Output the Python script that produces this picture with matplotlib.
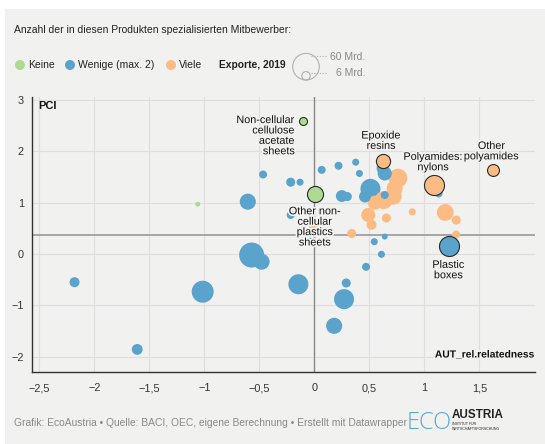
import matplotlib
matplotlib.use("Agg")
import matplotlib.pyplot as plt
from matplotlib.patches import Rectangle, Circle
import matplotlib.patheffects as pe
from matplotlib.ticker import FuncFormatter

plt.rcParams['font.family'] = ['Liberation Sans', 'DejaVu Sans']

# ---------------- data ----------------
categories = ["Keine", "Wenige (max. 2)", "Viele"]
colors = {"Keine": "#aedb93", "Wenige (max. 2)": "#5aa3cc", "Viele": "#fdbb84"}

keine_x = [-1.06, -0.105, 0.006]
keine_y = [0.97, 2.60, 1.16]
keine_exp = [2.1, 5.4, 22]
keine_lab = ["", "Non-cellular\ncellulose\nacetate\nsheets", "Other non-\ncellular\nplastics\nsheets"]

wenige_x = [-2.18, -1.61, -1.015, -0.57, -0.48, -0.605, -0.466, -0.215, -0.13, 0.067,
            0.22, 0.376, 0.41, 0.25, 0.30, 0.51, 0.46, 0.64, 0.64, 0.62,
            1.13, 1.22, 0.545, 0.64, 0.61, 0.47, -0.145, 0.29, 0.27, 0.18,
            -0.215, -0.04, 0.11]
wenige_y = [-0.55, -1.86, -0.735, -0.02, -0.15, 1.02, 1.55, 1.40, 1.40, 1.64,
            1.72, 1.79, 1.57, 1.13, 1.12, 1.27, 1.12, 1.15, 1.57, 1.67,
            1.18, 0.156, 0.24, 0.34, -0.006, -0.25, -0.59, -0.565, -0.88, -1.40,
            0.76, 0.26, 0.26]
wenige_exp = [8.5, 10, 41, 53, 22, 22, 5.4, 6.9, 4.2, 5.4,
              5.4, 4.2, 4.2, 12, 6.9, 34, 12, 5.4, 17, 12,
              5.4, 34, 4.2, 3, 4.2, 5.4, 34, 6.9, 34, 22,
              5.4, 3, 3]
wenige_lab = [""] * 21 + ["Plastic\nboxes"] + [""] * 11

viele_x = [0.62, 1.09, 1.62, 0.76, 0.73, 0.72, 0.63, 0.55, 0.49, 0.52,
           0.655, 0.89, 0.34, 1.19, 1.29, 1.29, -0.01]
viele_y = [1.82, 1.35, 1.63, 1.48, 1.28, 1.12, 1.05, 1.00, 0.76, 0.57,
           0.70, 0.82, 0.40, 0.81, 0.66, 0.38, 0.52]
viele_exp = [17, 34, 12, 30, 22, 22, 27, 17, 17, 8.5,
             6.9, 4.2, 6.9, 24, 6.9, 5.4, 5.4]
viele_lab = ["Epoxide\nresins", "Polyamides:\nnylons", "Other\npolyamides"] + [""] * 14

x_ticks = [-2.5, -2, -1.5, -1, -0.5, 0, 0.5, 1, 1.5]
y_ticks = [-2, -1, 0, 1, 2, 3]
pci_ref = 0.376

# label offsets (points) and alignment per labelled product
label_pos = {
    "Non-cellular\ncellulose\nacetate\nsheets": ((-5.5, 4.0), "right", "top"),
    "Other non-\ncellular\nplastics\nsheets": ((0, -8.5), "center", "top"),
    "Plastic\nboxes": ((0, -10.0), "center", "top"),
    "Epoxide\nresins": ((-1.0, 7.0), "center", "bottom"),
    "Polyamides:\nnylons": ((-0.7, 9.0), "center", "bottom"),
    "Other\npolyamides": ((-0.7, 6.5), "center", "bottom"),
}

BG = "#f1f1f0"
W, H = 545, 444
fig = plt.figure(figsize=(W / 100, H / 100), dpi=100)
fig.patch.set_facecolor("white")

bg = fig.add_axes([0, 0, 1, 1], zorder=0)
bg.set_xlim(0, W)
bg.set_ylim(H, 0)
bg.axis("off")
bg.add_patch(Rectangle((5, 9), W - 5, H - 9, facecolor=BG, edgecolor="none"))

# header
bg.text(14, 30, "Anzahl der in diesen Produkten spezialisierten Mitbewerber:",
        fontsize=7.5, color="#222", va="center", ha="left")
leg_items = [("Keine", 20), ("Wenige (max. 2)", 70), ("Viele", 171)]
for name, cx in leg_items:
    bg.add_patch(Circle((cx, 65), 5, facecolor=colors[name], edgecolor="none"))
    bg.text(cx + 8, 65, name, fontsize=7.5, color="#222", va="center", ha="left")
bg.text(219, 65.5, "Exporte, 2019", fontsize=7.4, fontweight="bold", color="#222",
        va="center", ha="left")
bg.add_patch(Circle((306, 66.7), 13.3, facecolor="none", edgecolor="#b0b0b0", lw=0.8))
bg.add_patch(Circle((306, 75.8), 4.2, facecolor="none", edgecolor="#b0b0b0", lw=0.8))
bg.plot([311, 326], [56.5, 56.5], ls=(0, (1, 1.5)), color="#b0b0b0", lw=0.8)
bg.plot([311, 326], [72.7, 72.7], ls=(0, (1, 1.5)), color="#b0b0b0", lw=0.8)
bg.text(365, 56.5, "60 Mrd.", fontsize=7.5, color="#888", va="center", ha="right")
bg.text(365, 72.7, "6 Mrd.", fontsize=7.5, color="#888", va="center", ha="right")

# footer
bg.text(14, 422.5, "Grafik: EcoAustria \u2022 Quelle: BACI, OEC, eigene Berechnung \u2022 Erstellt mit Datawrapper",
        fontsize=7.35, color="#8a8a8a", va="center", ha="left")
bg.text(407, 423, "ECO", fontsize=17, color="#55a8dc", va="center", ha="left",
        family=["Open Sans", "DejaVu Sans"], fontweight="light")
bg.text(452, 415, "AUSTRIA", fontsize=8.4, fontweight="bold", color="#222",
        va="center", ha="left")
bg.text(452, 426.5, "INSTITUT FÜR\nWIRTSCHAFTSFORSCHUNG", fontsize=2.6, color="#222",
        va="center", ha="left", linespacing=1.1)

# main axes
L, R, T, B = 32.3, 535, 96.7, 372
ax = fig.add_axes([L / W, (H - B) / H, (R - L) / W, (B - T) / H], zorder=2)
ax.set_facecolor("none")
ax.set_xlim(-2.564, 2.006)
ax.set_ylim(-2.30, 3.066)
ax.set_xticks(x_ticks)
ax.set_yticks(y_ticks)

def fmt(v, _):
    s = ("%g" % v).replace(".", ",")
    return s.replace("-", "\u2212")

ax.xaxis.set_major_formatter(FuncFormatter(fmt))
ax.yaxis.set_major_formatter(FuncFormatter(fmt))
ax.tick_params(length=0, labelsize=7.8, colors="#333")
ax.tick_params(axis="x", pad=8)
ax.tick_params(axis="y", pad=6)
ax.grid(True, color="#dedede", lw=0.8)
ax.set_axisbelow(True)
for s in ["top", "right"]:
    ax.spines[s].set_visible(False)
for s in ["left", "bottom"]:
    ax.spines[s].set_color("#333")
    ax.spines[s].set_linewidth(1.0)

ax.axvline(0, color="#888", lw=1.0, zorder=1)
ax.axhline(pci_ref, color="#999", lw=1.2, zorder=1)

K = (2 * 13.3 * 0.72) ** 2 / 60.0  # points^2 per Mrd

pts = []
for cat, xs, ys, es, ls in [("Keine", keine_x, keine_y, keine_exp, keine_lab),
                            ("Wenige (max. 2)", wenige_x, wenige_y, wenige_exp, wenige_lab),
                            ("Viele", viele_x, viele_y, viele_exp, viele_lab)]:
    for xv, yv, ev, lv in zip(xs, ys, es, ls):
        pts.append((cat, xv, yv, ev, lv))

plain = sorted([p for p in pts if not p[4]], key=lambda p: -p[3])
high = [p for p in pts if p[4]]
for cat, xv, yv, ev, lv in plain:
    ax.scatter([xv], [yv], s=ev * K, color=colors[cat], edgecolors="none", zorder=3)
for cat, xv, yv, ev, lv in high:
    ax.scatter([xv], [yv], s=ev * K, color=colors[cat], edgecolors="#2a2a2a",
               linewidths=0.8, zorder=4)
    off, ha, va = label_pos[lv]
    ax.annotate(lv, (xv, yv), xytext=off, textcoords="offset points", ha=ha, va=va,
                fontsize=7.8, color="#111", linespacing=1.05, zorder=5,
                multialignment="right" if ha == "right" else "center",
                path_effects=[pe.withStroke(linewidth=2.5, foreground=BG)])

ax.text(0.012, 0.985, "PCI", transform=ax.transAxes, fontsize=8, fontweight="bold",
        color="#111", ha="left", va="top", zorder=6)
ax.text(1.0, 0.045, "AUT_rel.relatedness", transform=ax.transAxes, fontsize=7.4,
        fontweight="bold", color="#111", ha="right", va="bottom", zorder=6,
        path_effects=[pe.withStroke(linewidth=2.5, foreground=BG)])

fig.savefig("out.png", dpi=100, facecolor=fig.get_facecolor())
